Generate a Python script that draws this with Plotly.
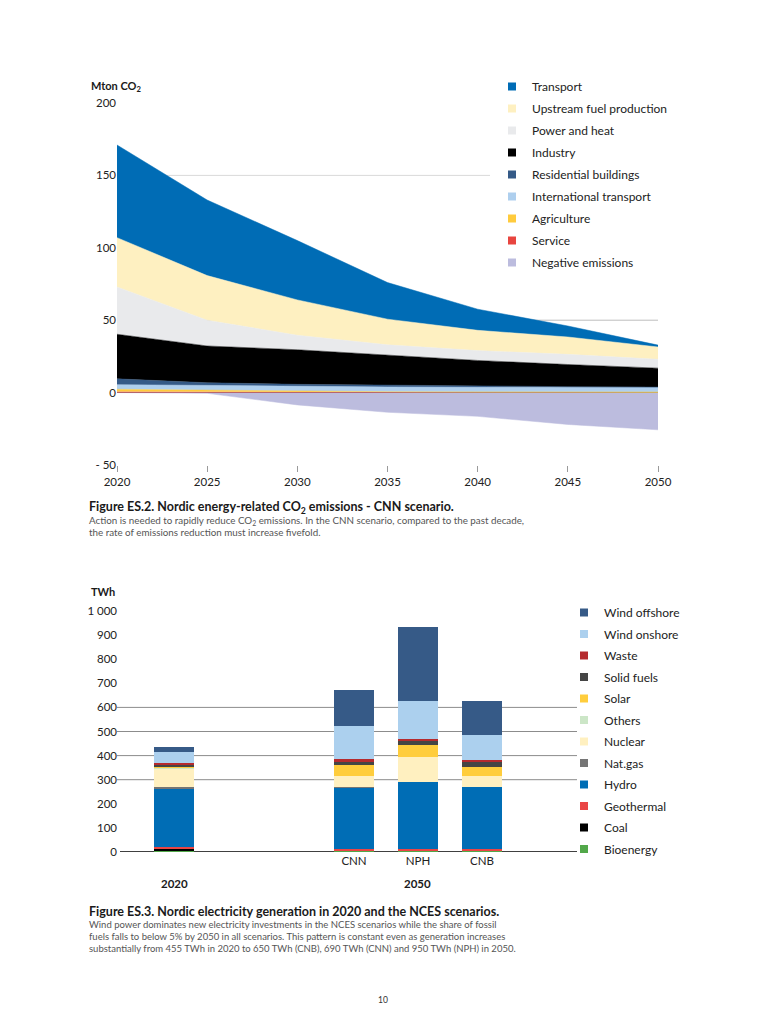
import plotly.graph_objects as go

# ---------------- Data: Figure ES.2 (Mton CO2, CNN scenario) ----------------
years = [2020, 2025, 2030, 2035, 2040, 2045, 2050]
service = [0.8, 0.6, 0.3, 0.2, 0.2, 0.2, 0.1]
agriculture = [1.5, 1.2, 0.6, 0.4, 0.3, 0.3, 0.3]
international_transport = [3.2, 3.0, 3.3, 3.3, 3.2, 3.1, 3.1]
residential_buildings = [4.0, 2.0, 1.5, 1.1, 0.8, 0.5, 0.3]
industry = [30.8, 25.4, 23.9, 20.7, 17.7, 15.3, 13.1]
power_and_heat = [32.7, 17.8, 10.0, 7.3, 6.8, 7.0, 6.1]
upstream_fuel = [34.0, 30.8, 24.4, 17.7, 14.0, 12.0, 8.5]
transport = [64.0, 52.2, 41.0, 25.3, 14.6, 7.6, 1.3]
negative_emissions = [0.0, -0.5, -8.5, -13.6, -16.4, -22.0, -25.7]

co2_ticks = [-50, 0, 50, 100, 150, 200]
co2_ticktext = ["- 50", "0", "50", "100", "150", "200"]

# ---------------- Data: Figure ES.3 (TWh) ----------------
bar_cats = ["2020", "CNN", "NPH", "CNB"]
bioenergy = [7, 6, 6, 6]
coal = [8, 0, 0, 0]
geothermal = [6, 8, 8, 8]
hydro = [241, 253, 276, 254]
nat_gas = [8, 1, 0, 0]
nuclear = [76, 49, 106, 47]
others = [6, 0, 0, 0]
solar = [1, 43, 47, 37]
solid_fuels = [12, 15, 20, 25]
waste = [5, 10, 5, 4]
wind_onshore = [46, 136, 160, 105]
wind_offshore = [18, 152, 304, 142]

twh_ticks = [0, 100, 200, 300, 400, 500, 600, 700, 800, 900, 1000]
twh_ticktext = ["0", "100", "200", "300", "400", "500", "600", "700", "800", "900", "1 000"]

FONT = "Lato"
W, H = 768, 1024


def px(x):
    return x / W


def py(y):
    return 1 - y / H


fig = go.Figure()

# ---- top chart areas ----
fig.add_trace(go.Scatter(
    x=years, y=negative_emissions, name="Negative emissions", stackgroup="neg",
    mode="lines", line=dict(width=0.5, color="#bcbcde"), fillcolor="#bcbcde",
    showlegend=False, xaxis="x", yaxis="y"))

area_series = [
    ("Service", service, "#e8453f", 0),
    ("Agriculture", agriculture, "#ffcb3d", 0.5),
    ("International transport", international_transport, "#aecfee", 0.5),
    ("Residential buildings", residential_buildings, "#355a87", 0.5),
    ("Industry", industry, "#000000", 0.5),
    ("Power and heat", power_and_heat, "#e9eaec", 0.5),
    ("Upstream fuel production", upstream_fuel, "#fef0c1", 0.5),
    ("Transport", transport, "#006cb5", 0.5),
]
for name, vals, col, lw in area_series:
    fig.add_trace(go.Scatter(
        x=years, y=vals, name=name, stackgroup="pos", mode="lines",
        line=dict(width=lw, color=col), fillcolor=col,
        showlegend=False, xaxis="x", yaxis="y"))

# legend entries (top)
top_legend = [
    ("Transport", "#006cb5"),
    ("Upstream fuel production", "#fef0c1"),
    ("Power and heat", "#e9eaec"),
    ("Industry", "#000000"),
    ("Residential buildings", "#355a87"),
    ("International transport", "#aecfee"),
    ("Agriculture", "#ffcb3d"),
    ("Service", "#e8453f"),
    ("Negative emissions", "#bcbcde"),
]
for name, col in top_legend:
    fig.add_trace(go.Scatter(
        x=[None], y=[None], mode="markers", name=name,
        marker=dict(symbol="square", size=8, color=col),
        legend="legend", legendgroup="t_" + name, showlegend=True, xaxis="x", yaxis="y"))

# ---- bottom chart bars ----
bar_series = [
    ("Bioenergy", bioenergy, "#52a84a"),
    ("Coal", coal, "#000000"),
    ("Geothermal", geothermal, "#ea4545"),
    ("Hydro", hydro, "#006db5"),
    ("Nat.gas", nat_gas, "#757575"),
    ("Nuclear", nuclear, "#fff0c0"),
    ("Others", others, "#cce6c7"),
    ("Solar", solar, "#ffcd3c"),
    ("Solid fuels", solid_fuels, "#454545"),
    ("Waste", waste, "#b52a2e"),
    ("Wind onshore", wind_onshore, "#acd0ee"),
    ("Wind offshore", wind_offshore, "#365a87"),
]
for name, vals, col in bar_series:
    fig.add_trace(go.Bar(
        x=bar_cats[:1], y=vals[:1], name=name, marker=dict(color=col, line=dict(width=0)),
        showlegend=False, xaxis="x2", yaxis="y2"))
    fig.add_trace(go.Bar(
        x=bar_cats[1:], y=vals[1:], name=name, marker=dict(color=col, line=dict(width=0)),
        showlegend=False, xaxis="x3", yaxis="y2"))

for name, vals, col in reversed(bar_series):
    fig.add_trace(go.Scatter(
        x=[None], y=[None], mode="markers", name=name,
        marker=dict(symbol="square", size=8, color=col),
        legend="legend2", legendgroup="b_" + name, showlegend=True,
        xaxis="x3", yaxis="y2"))

# ---- shapes: gridlines ----
shapes = [
    dict(type="line", xref="paper", yref="y", x0=px(117), x1=px(490), y0=150, y1=150,
         line=dict(color="#d9d9d9", width=1), layer="below"),
    dict(type="line", xref="paper", yref="y", x0=px(117), x1=px(658), y0=50, y1=50,
         line=dict(color="#bdbdbd", width=1), layer="below"),
]
for g in [300, 400, 500, 600]:
    shapes.append(dict(type="line", xref="paper", yref="y2", x0=px(117), x1=px(577),
                       y0=g, y1=g, line=dict(color="#8c8c8c", width=1), layer="below"))
shapes.append(dict(type="line", xref="paper", yref="y2", x0=px(120), x1=px(577),
                   y0=0, y1=0, line=dict(color="#000000", width=1.5), layer="below"))

# ---- annotations ----
ann = []


def text(x, y, s, size, color="#1a1a1a", bold=False, xanchor="left"):
    ann.append(dict(x=px(x), y=py(y), xref="paper", yref="paper", text=(f"<b>{s}</b>" if bold else s),
                    showarrow=False, xanchor=xanchor, yanchor="middle",
                    font=dict(family=FONT, size=size, color=color)))


text(89, 86, "Mton CO<sub>2</sub>", 11, bold=True)
text(89, 591, "TWh", 11, bold=True)
text(174, 883, "2020", 11.5, bold=True, xanchor="center")
text(417, 883, "2050", 11.5, bold=True, xanchor="center")

text(87, 507, "Figure ES.2. Nordic energy-related CO<sub>2</sub> emissions - CNN scenario.", 12.5, bold=True)
text(87, 520, "Action is needed to rapidly reduce CO<sub>2</sub> emissions. In the CNN scenario, compared to the past decade,", 9.8, color="#555555")
text(87, 532, "the rate of emissions reduction must increase fivefold.", 9.8, color="#555555")

text(87, 911, "Figure ES.3. Nordic electricity generation in 2020 and the NCES scenarios.", 12.5, bold=True)
text(87, 924, "Wind power dominates new electricity investments in the NCES scenarios while the share of fossil", 9.5, color="#555555")
text(87, 936, "fuels falls to below 5% by 2050 in all scenarios. This pattern is constant even as generation increases", 9.5, color="#555555")
text(87, 948, "substantially from 455 TWh in 2020 to 650 TWh (CNB), 690 TWh (CNN) and 950 TWh (NPH) in 2050.", 9.5, color="#555555")

text(383, 1000, "10", 8.5, color="#333333", xanchor="center")

axis_font = dict(family=FONT, size=11.5, color="#222222")

fig.update_layout(
    width=W, height=H, autosize=False,
    margin=dict(l=0, r=0, t=0, b=0, pad=0, autoexpand=False),
    paper_bgcolor="white", plot_bgcolor="rgba(0,0,0,0)",
    font=dict(family=FONT, size=11, color="#222222"),
    barmode="stack", bargap=0.375,
    showlegend=True,
    xaxis=dict(domain=[px(117), px(658)], range=[2020, 2050], anchor="y",
               tickvals=years, ticks="outside", ticklen=6, tickcolor="#9a9a9a",
               showgrid=False, zeroline=False, showline=False, tickfont=axis_font,
               automargin=False),
    yaxis=dict(domain=[py(465), py(103)], range=[-50, 200], anchor="x",
               tickvals=co2_ticks, ticktext=co2_ticktext, showgrid=False,
               zeroline=True, zerolinecolor="#555555", zerolinewidth=1,
               showline=False, ticks="", tickfont=axis_font, automargin=False),
    xaxis2=dict(domain=[px(142), px(206)], range=[-0.5, 0.5], anchor="y2", type="category",
                showticklabels=False, showgrid=False, zeroline=False, showline=False, ticks="",
                automargin=False),
    xaxis3=dict(domain=[px(322), px(514)], range=[-0.5, 2.5], anchor="y2", type="category",
                showgrid=False, zeroline=False, showline=False, ticks="", tickfont=axis_font,
                automargin=False),
    yaxis2=dict(domain=[py(852), py(611)], range=[0, 1000], anchor="free", position=px(117),
                tickvals=twh_ticks, ticktext=twh_ticktext, showgrid=False, zeroline=False,
                showline=False, ticks="", tickfont=axis_font, automargin=False),
    legend=dict(x=px(492), y=py(72), xanchor="left", yanchor="top", bgcolor="white",
                font=dict(family=FONT, size=12, color="#222222"), tracegroupgap=3,
                itemwidth=30, traceorder="grouped"),
    legend2=dict(x=px(564), y=py(598), xanchor="left", yanchor="top", bgcolor="rgba(0,0,0,0)",
                 font=dict(family=FONT, size=12, color="#222222"), tracegroupgap=2.5,
                 itemwidth=30, traceorder="grouped"),
    shapes=shapes,
    annotations=ann,
)

fig.write_html("out.html", config={"displayModeBar": False},
               post_script="document.body.style.margin='0px';")
